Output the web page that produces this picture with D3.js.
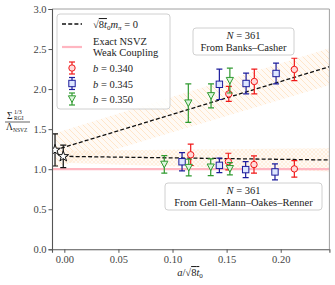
<!DOCTYPE html>
<html>
<head>
<meta charset="utf-8">
<script src="https://cdnjs.cloudflare.com/ajax/libs/d3/7.8.5/d3.min.js"></script>
<style>
  body { margin: 0; background: #fff; }
  svg { display: block; font-family: "Liberation Serif", "DejaVu Serif", serif; }
</style>
</head>
<body>
<svg id="chart" width="335" height="285"></svg>
<script>
// ---- data ----
// Banks-Casher points
const bcX340 = [0.152, 0.1756, 0.2126];
const bcY340 = [1.94, 2.095, 2.245];
const bcE340 = [0.094, 0.155, 0.14];
const bcX345 = [0.1433, 0.168, 0.1957];
const bcY345 = [2.06, 2.07, 2.195];
const bcE345 = [0.19, 0.13, 0.13];
const bcX350 = [0.1146, 0.1356, 0.153];
const bcY350 = [1.825, 1.916, 2.106];
const bcE350 = [0.24, 0.15, 0.155];

// Gell-Mann-Oakes-Renner points
const gmX340 = [0.1168, 0.1516, 0.1753, 0.2126];
const gmY340 = [1.18, 1.095, 1.058, 1.004];
const gmE340 = [0.134, 0.104, 0.108, 0.104];
const gmX345 = [0.1088, 0.1433, 0.1676, 0.1947];
const gmY345 = [1.093, 1.048, 0.995, 0.966];
const gmE345 = [0.114, 0.09, 0.1, 0.1];
const gmX350 = [0.0924, 0.115, 0.1353, 0.153];
const gmY350 = [1.06, 1.02, 1.025, 1.006];
const gmE350 = [0.11, 0.104, 0.104, 0.077];

// chiral/continuum extrapolations (stars)
const starX = [-0.0086, -0.001];
const starY = [1.24, 1.16];
const starE = [0.2, 0.14];

// fit lines and their bands
const fitBcX = [-0.0086, 0.245];
const fitBcY = [1.24, 2.28];
const bandBcLo = [1.02, 2.05];
const bandBcHi = [1.45, 2.51];
const fitGmX = [-0.001, 0.245];
const fitGmY = [1.16, 1.115];
const bandGmLo = [1.08, 0.97];
const bandGmHi = [1.23, 1.26];

const nsvzY = 1.0;

const xTicks = [0.00, 0.05, 0.10, 0.15, 0.20];
const yTicks = [0.0, 0.5, 1.0, 1.5, 2.0, 2.5, 3.0];

const series = [
  { label: "b = 0.340", color: "#f01818", fill: "#ffdada", symbol: "circle", bc: [bcX340, bcY340, bcE340], gm: [gmX340, gmY340, gmE340] },
  { label: "b = 0.345", color: "#1c1c9c", fill: "#dde6ff", symbol: "square", bc: [bcX345, bcY345, bcE345], gm: [gmX345, gmY345, gmE345] },
  { label: "b = 0.350", color: "#2f9a2f", fill: "#dcf5dc", symbol: "tri", bc: [bcX350, bcY350, bcE350], gm: [gmX350, gmY350, gmE350] }
];

// ---- layout ----
const L = 52, R = 329.4, T = 9, B = 249.3;
const svg = d3.select("#chart");
const x = d3.scaleLinear().domain([-0.0114, 0.245]).range([L, R]);
const y = d3.scaleLinear().domain([0, 3]).range([B, T]);

const defs = svg.append("defs");
defs.append("clipPath").attr("id", "clip")
  .append("rect").attr("x", L).attr("y", T).attr("width", R - L).attr("height", B - T);

const hatchColor = "#ffe1bf";
const p1 = defs.append("pattern").attr("id", "hatchBack")
  .attr("patternUnits", "userSpaceOnUse").attr("width", 6).attr("height", 6);
p1.append("path").attr("d", "M0,0 L6,6 M-1,5 L1,7 M5,-1 L7,1")
  .attr("stroke", hatchColor).attr("stroke-width", 0.8);
const p2 = defs.append("pattern").attr("id", "hatchCross")
  .attr("patternUnits", "userSpaceOnUse").attr("width", 4).attr("height", 4);
p2.append("path").attr("d", "M0,0 L4,4 M-1,3 L1,5 M3,-1 L5,1 M0,4 L4,0 M-1,1 L1,-1 M3,5 L5,3")
  .attr("stroke", "#ffe8cf").attr("stroke-width", 0.6);

const plot = svg.append("g").attr("clip-path", "url(#clip)");

// bands
function band(xs, lo, hi, fillId) {
  const pts = xs.map((d, i) => ({ x: d, lo: lo[i], hi: hi[i] }));
  const area = d3.area().x(d => x(d.x)).y0(d => y(d.lo)).y1(d => y(d.hi));
  plot.append("path").datum(pts).attr("d", area)
    .attr("fill", "#fff6ec").attr("fill-opacity", 0.5);
  plot.append("path").datum(pts).attr("d", area).attr("fill", `url(#${fillId})`);
}
band(fitBcX, bandBcLo, bandBcHi, "hatchBack");
band(fitGmX, bandGmLo, bandGmHi, "hatchCross");

// exact NSVZ line
plot.append("line")
  .attr("x1", x(-0.0114)).attr("x2", x(0.245))
  .attr("y1", y(nsvzY)).attr("y2", y(nsvzY))
  .attr("stroke", "#ffb6c1").attr("stroke-width", 2.2);

// fit lines
const lineGen = d3.line().x(d => x(d[0])).y(d => y(d[1]));
[[fitBcX, fitBcY], [fitGmX, fitGmY]].forEach(([xs, ys]) => {
  plot.append("path").datum(xs.map((d, i) => [d, ys[i]]))
    .attr("d", lineGen).attr("fill", "none")
    .attr("stroke", "#111").attr("stroke-width", 1.3).attr("stroke-dasharray", "4,2.2");
});

// markers
function marker(g, cx, cy, symbol, color, fill) {
  if (symbol === "circle") {
    g.append("circle").attr("cx", cx).attr("cy", cy).attr("r", 3.2)
      .attr("fill", fill).attr("stroke", color).attr("stroke-width", 1);
  } else if (symbol === "square") {
    g.append("rect").attr("x", cx - 3.2).attr("y", cy - 3.2).attr("width", 6.4).attr("height", 6.4)
      .attr("fill", fill).attr("stroke", color).attr("stroke-width", 1);
  } else if (symbol === "tri") {
    g.append("path").attr("d", `M${cx - 3.6},${cy - 3.2} L${cx + 3.6},${cy - 3.2} L${cx},${cy + 3.4} Z`)
      .attr("fill", fill).attr("stroke", color).attr("stroke-width", 1);
  } else {
    g.append("path").attr("d", d3.symbol().type(d3.symbolStar).size(36)())
      .attr("transform", `translate(${cx},${cy})`)
      .attr("fill", fill).attr("stroke", color).attr("stroke-width", 1);
  }
}

function errPoints(xs, ys, es, symbol, color, fill) {
  const g = plot.append("g");
  xs.forEach((d, i) => {
    const cx = x(d), yt = y(ys[i] + es[i]), yb = y(ys[i] - es[i]);
    g.append("line").attr("x1", cx).attr("x2", cx).attr("y1", yt).attr("y2", yb)
      .attr("stroke", color).attr("stroke-width", 1.2);
    [yt, yb].forEach(cy => g.append("line").attr("x1", cx - 3).attr("x2", cx + 3)
      .attr("y1", cy).attr("y2", cy).attr("stroke", color).attr("stroke-width", 1.2));
    marker(g, cx, y(ys[i]), symbol, color, fill);
  });
}

series.forEach(s => {
  errPoints(s.bc[0], s.bc[1], s.bc[2], s.symbol, s.color, s.fill);
  errPoints(s.gm[0], s.gm[1], s.gm[2], s.symbol, s.color, s.fill);
});
errPoints(starX, starY, starE, "star", "#111", "#fff");

// spines
svg.append("line").attr("x1", L).attr("x2", R).attr("y1", T).attr("y2", T).attr("stroke", "#a0a0a0");
svg.append("line").attr("x1", R).attr("x2", R).attr("y1", T).attr("y2", B).attr("stroke", "#a0a0a0");

// axes
const xAxis = svg.append("g").attr("transform", `translate(0,${B})`)
  .call(d3.axisBottom(x).tickValues(xTicks).tickFormat(d3.format(".2f")).tickSize(3.5).tickPadding(3));
const yAxis = svg.append("g").attr("transform", `translate(${L},0)`)
  .call(d3.axisLeft(y).tickValues(yTicks).tickFormat(d3.format(".1f")).tickSize(3.5).tickPadding(2));
[xAxis, yAxis].forEach(a => {
  a.select(".domain").attr("stroke", "#555").attr("stroke-width", 1.1);
  a.selectAll(".tick line").attr("stroke", "#555");
  a.selectAll(".tick text").attr("fill", "#444").attr("font-size", 10.5)
    .attr("font-family", "Liberation Serif, serif");
});

// legend
const lg = svg.append("g");
lg.append("rect").attr("x", 57).attr("y", 14).attr("width", 113).attr("height", 95).attr("rx", 3)
  .attr("fill", "#fff").attr("fill-opacity", 0.85).attr("stroke", "#d0d0d0").attr("stroke-width", 1);
lg.append("line").attr("x1", 62).attr("x2", 82).attr("y1", 24).attr("y2", 24)
  .attr("stroke", "#111").attr("stroke-width", 1.3).attr("stroke-dasharray", "4,2.2");
const t0 = lg.append("text").attr("x", 93).attr("y", 28).attr("font-size", 10.5).attr("fill", "#222");
t0.append("tspan").text("√");
t0.append("tspan").attr("text-decoration", "overline").text("8");
t0.append("tspan").attr("font-style", "italic").attr("text-decoration", "overline").text("t");
t0.append("tspan").attr("font-size", 7).attr("dy", 2).text("0");
t0.append("tspan").attr("font-style", "italic").attr("dy", -2).text("m");
t0.append("tspan").attr("font-size", 7).attr("font-style", "italic").attr("dy", 2).text("π");
t0.append("tspan").attr("dy", -2).text(" = 0");

lg.append("line").attr("x1", 62).attr("x2", 82).attr("y1", 47).attr("y2", 47)
  .attr("stroke", "#ffb6c1").attr("stroke-width", 2.2);
lg.append("text").attr("x", 93).attr("y", 45).attr("font-size", 10.5).attr("fill", "#222").text("Exact NSVZ");
lg.append("text").attr("x", 93).attr("y", 56).attr("font-size", 10.5).attr("fill", "#222").text("Weak Coupling");

series.forEach((s, i) => {
  const cy = 68 + i * 15.5;
  lg.append("line").attr("x1", 72).attr("x2", 72).attr("y1", cy - 6).attr("y2", cy + 6)
    .attr("stroke", s.color).attr("stroke-width", 1.2);
  [cy - 6, cy + 6].forEach(v => lg.append("line").attr("x1", 69).attr("x2", 75).attr("y1", v).attr("y2", v)
    .attr("stroke", s.color).attr("stroke-width", 1.2));
  marker(lg, 72, cy, s.symbol, s.color, s.fill);
  const tt = lg.append("text").attr("x", 93).attr("y", cy + 4).attr("font-size", 10.5).attr("fill", "#222");
  tt.append("tspan").attr("font-style", "italic").text("b");
  tt.append("tspan").text(s.label.slice(1));
});

// annotation boxes
function note(cx, top, w, lines) {
  const g = svg.append("g");
  g.append("rect").attr("x", cx - w / 2).attr("y", top).attr("width", w).attr("height", 27).attr("rx", 3)
    .attr("fill", "#fff").attr("fill-opacity", 0.85).attr("stroke", "#d0d0d0");
  const t1 = g.append("text").attr("x", cx).attr("y", top + 11).attr("text-anchor", "middle")
    .attr("font-size", 10.5).attr("fill", "#222");
  t1.append("tspan").attr("font-style", "italic").text("N");
  t1.append("tspan").text(" = 361");
  g.append("text").attr("x", cx).attr("y", top + 23).attr("text-anchor", "middle")
    .attr("font-size", 10.5).attr("fill", "#222").text(lines);
}
note(243.5, 28, 101, "From Banks–Casher");
note(243.5, 183, 157, "From Gell-Mann–Oakes–Renner");

// axis labels
const xl = svg.append("text").attr("x", 190).attr("y", 276).attr("text-anchor", "middle")
  .attr("font-size", 10.5).attr("fill", "#222");
xl.append("tspan").attr("font-style", "italic").text("a");
xl.append("tspan").text("/√");
xl.append("tspan").attr("text-decoration", "overline").text("8");
xl.append("tspan").attr("font-style", "italic").attr("text-decoration", "overline").text("t");
xl.append("tspan").attr("font-size", 7).attr("dy", 2).text("0");

const yl = svg.append("g").attr("fill", "#222");
yl.append("text").attr("x", 7).attr("y", 119).attr("font-size", 9.5).text("Σ");
yl.append("text").attr("x", 14).attr("y", 114).attr("font-size", 6).text("1/3");
yl.append("text").attr("x", 14).attr("y", 120).attr("font-size", 5.5).text("RGI");
yl.append("line").attr("x1", 5).attr("x2", 30).attr("y1", 122).attr("y2", 122)
  .attr("stroke", "#222").attr("stroke-width", 0.7);
yl.append("text").attr("x", 6).attr("y", 130).attr("font-size", 9.5).text("Λ");
yl.append("text").attr("x", 13).attr("y", 132).attr("font-size", 5.5).text("NSVZ");
</script>
</body>
</html>
